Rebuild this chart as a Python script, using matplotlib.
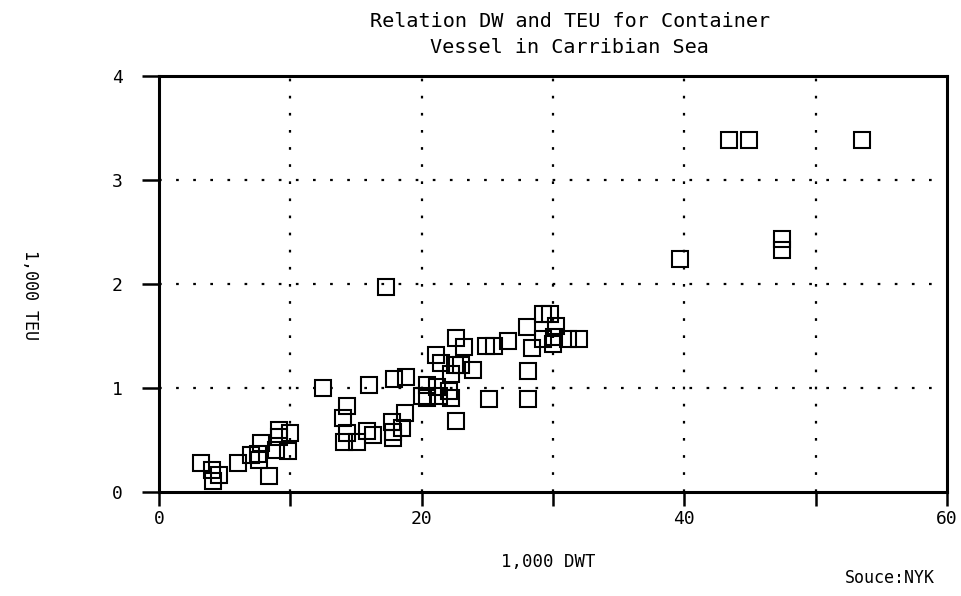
import matplotlib.pyplot as plt

# 1,000 DWT vs 1,000 TEU
dwt = [3.2, 4.0, 4.6, 4.1, 6.0, 7.0, 7.5, 7.8, 7.6, 8.4, 9.1, 9.1, 10.0, 8.9, 9.8,
       12.5, 16.0, 17.9, 18.8, 17.3, 14.3, 14.0, 14.3, 14.1, 15.1, 15.8, 16.3,
       18.7, 17.7, 18.5, 17.8, 17.8,
       21.1, 21.5, 22.5, 23.0, 23.9, 22.2, 28.1,
       20.4, 21.2, 22.1, 20.0, 20.4, 21.3, 22.2, 25.1, 28.1, 22.6,
       22.6, 23.2, 24.9, 25.5, 26.6, 28.0, 29.2, 29.8, 30.2, 28.4,
       29.2, 30.0, 30.1, 31.1, 32.0,
       39.7, 47.4, 47.4, 43.4, 44.9, 53.5]
teu = [0.28, 0.21, 0.16, 0.11, 0.28, 0.36, 0.37, 0.47, 0.31, 0.15, 0.60, 0.53, 0.57, 0.40, 0.39,
       1.00, 1.03, 1.09, 1.11, 1.97, 0.83, 0.71, 0.57, 0.48, 0.48, 0.59, 0.55,
       0.76, 0.67, 0.62, 0.52, 0.58,
       1.32, 1.24, 1.22, 1.22, 1.17, 1.13, 1.16,
       1.03, 1.01, 0.97, 0.92, 0.90, 0.92, 0.90, 0.89, 0.89, 0.68,
       1.48, 1.39, 1.40, 1.40, 1.45, 1.59, 1.71, 1.71, 1.60, 1.38,
       1.47, 1.42, 1.49, 1.47, 1.47,
       2.24, 2.43, 2.33, 3.38, 3.38, 3.38]

x_ticks = [0, 20, 40, 60]
y_ticks = [0, 1, 2, 3, 4]

plt.rcParams['font.family'] = ['DejaVu Sans Mono']

fig = plt.figure(figsize=(9.61, 5.96), dpi=100)
ax = fig.add_axes([0.1655, 0.1745, 0.82, 0.698])

ax.plot(dwt, teu, linestyle='none', marker='s', markersize=11,
        markerfacecolor='none', markeredgecolor='black', markeredgewidth=1.5)

ax.set_xlim(0, 60)
ax.set_ylim(0, 4)
ax.set_xticks(x_ticks)
ax.set_xticks([10, 30, 50], minor=True)
ax.set_yticks(y_ticks)
ax.tick_params(axis='both', which='both', direction='out', width=1.8, colors='black', labelsize=13)
ax.tick_params(axis='x', which='major', length=10, pad=3)
ax.tick_params(axis='x', which='minor', length=10)
ax.tick_params(axis='y', length=12, pad=14)

for x in [10, 20, 30, 40, 50]:
    ax.axvline(x, color='black', linewidth=1.6, linestyle=(0, (1.2, 6.5)))
for y in [1, 2, 3]:
    ax.axhline(y, color='black', linewidth=1.6, linestyle=(0, (1.2, 6.5)))

for s in ax.spines.values():
    s.set_linewidth(2.2)

fig.text(0.593, 0.98, "Relation DW and TEU for Container\nVessel in Carribian Sea",
         ha='center', va='top', fontsize=14.5, linespacing=1.5)
fig.text(0.571, 0.057, "1,000 DWT", ha='center', va='center', fontsize=12.5)
fig.text(0.031, 0.505, "1,000 TEU", ha='center', va='center', fontsize=12, rotation=270)
fig.text(0.926, 0.03, "Souce:NYK", ha='center', va='center', fontsize=12)

fig.savefig("out.png", dpi=100)
